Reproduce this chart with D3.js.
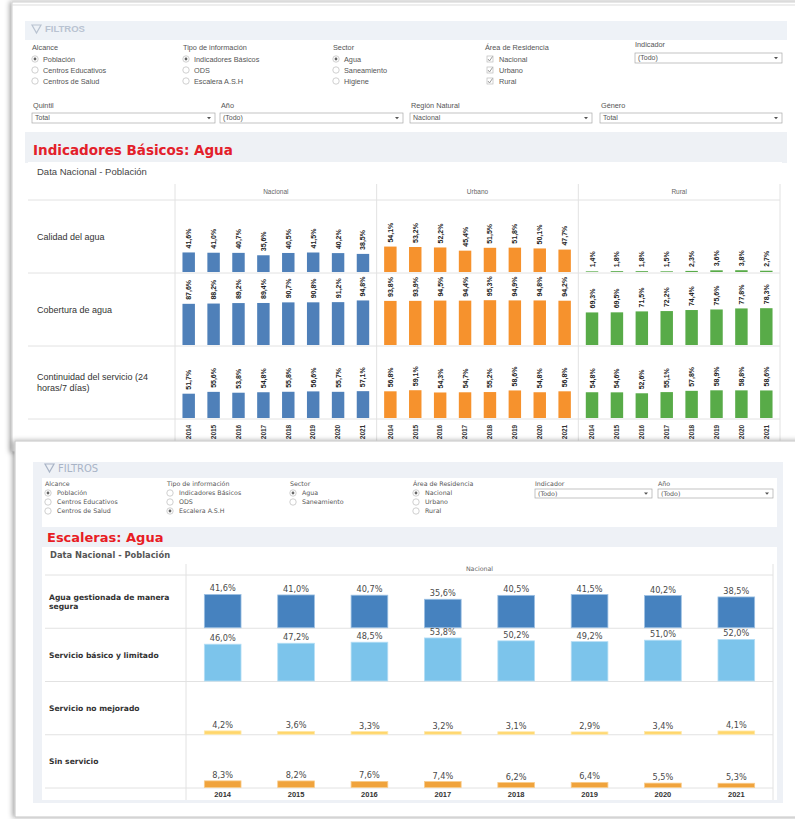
<!DOCTYPE html>
<html>
<head>
<meta charset="utf-8">
<script src="https://cdn.jsdelivr.net/npm/d3@7"></script>
<style>
  body { margin: 0; background: #fff; }
  svg { display: block; }
  text { font-family: "Liberation Sans", Arial, sans-serif; }
  .v { font-family: "DejaVu Sans", Verdana, sans-serif; }
</style>
</head>
<body>
<svg id="chart" width="795" height="819"></svg>
<script>
// Data
const years = ["2014", "2015", "2016", "2017", "2018", "2019", "2020", "2021"];
const areas = ["Nacional", "Urbano", "Rural"];
const basicIndicators = ["Calidad del agua", "Cobertura de agua", "Continuidad del servicio (24 horas/7 días)"];

const calidadNacional = [41.6, 41.0, 40.7, 35.6, 40.5, 41.5, 40.2, 38.5];
const calidadUrbano = [54.1, 53.2, 52.2, 45.4, 51.5, 51.8, 50.1, 47.7];
const calidadRural = [1.4, 1.8, 1.8, 1.5, 2.3, 3.6, 3.8, 2.7];
const coberturaNacional = [87.6, 88.2, 89.2, 89.4, 90.7, 90.8, 91.2, 94.8];
const coberturaUrbano = [93.8, 93.9, 94.5, 94.4, 95.3, 94.9, 94.8, 94.2];
const coberturaRural = [69.3, 69.5, 71.5, 72.2, 74.4, 75.6, 77.8, 78.3];
const continuidadNacional = [51.7, 55.6, 53.8, 54.8, 55.8, 56.6, 55.7, 57.1];
const continuidadUrbano = [56.8, 59.1, 54.3, 54.7, 55.2, 58.6, 54.8, 56.8];
const continuidadRural = [54.8, 54.6, 52.6, 55.1, 57.8, 58.9, 58.8, 58.6];

const ladderLevels = ["Agua gestionada de manera segura", "Servicio básico y limitado", "Servicio no mejorado", "Sin servicio"];
const gestionadaSegura = [41.6, 41.0, 40.7, 35.6, 40.5, 41.5, 40.2, 38.5];
const basicoLimitado = [46.0, 47.2, 48.5, 53.8, 50.2, 49.2, 51.0, 52.0];
const noMejorado = [4.2, 3.6, 3.3, 3.2, 3.1, 2.9, 3.4, 4.1];
const sinServicio = [8.3, 8.2, 7.6, 7.4, 6.2, 6.4, 5.5, 5.3];

const basicSeries = [
  [calidadNacional, calidadUrbano, calidadRural],
  [coberturaNacional, coberturaUrbano, coberturaRural],
  [continuidadNacional, continuidadUrbano, continuidadRural],
];
const ladderSeries = [gestionadaSegura, basicoLimitado, noMejorado, sinServicio];

// Styles
const areaColors = ["#4f80b9", "#f6922d", "#58ab48"];
const ladderColors = ["#4682bf", "#7cc4eb", "#ffd66b", "#f0a33c"];
const ladderStroke = ["#9cc0e3", "#b5def5", "#ffe8a8", "#f8cc8c"];
const gridColor = "#e2e2e2";

const fmt = (v) => d3.format(".1f")(v).replace(".", ",") + "%";
const svg = d3.select("#chart");

const defs = svg.append("defs");
defs.append("filter").attr("id", "shadow")
  .attr("x", "-5%").attr("y", "-5%").attr("width", "110%").attr("height", "110%")
  .append("feDropShadow")
  .attr("dx", -2).attr("dy", 0).attr("stdDeviation", 2.5)
  .attr("flood-color", "#000").attr("flood-opacity", 0.35);

// small form widgets
function radioGroup(g, x, y, title, items, selected, o) {
  g.append("text").attr("class", o.cls).attr("x", x).attr("y", y + o.fs * 0.35)
    .attr("font-size", o.fs).attr("fill", "#555").text(title);
  items.forEach((t, i) => {
    const cy = y + o.first + i * o.step;
    if (o.check) {
      g.append("rect").attr("x", x + o.dx - 3).attr("y", cy - 3).attr("width", 6).attr("height", 6)
        .attr("fill", "#fff").attr("stroke", "#bbb").attr("stroke-width", 0.7);
      g.append("path").attr("d", `M${x + o.dx - 2},${cy} l1.5,2 l3,-4.5`)
        .attr("fill", "none").attr("stroke", "#888").attr("stroke-width", 0.8);
    } else {
      g.append("circle").attr("cx", x + o.dx).attr("cy", cy).attr("r", 3.2)
        .attr("fill", "#fff").attr("stroke", "#bbb").attr("stroke-width", 0.7);
      if (i === selected) {
        g.append("circle").attr("cx", x + o.dx).attr("cy", cy).attr("r", 1.4).attr("fill", "#666");
      }
    }
    g.append("text").attr("class", o.cls).attr("x", x + o.tx).attr("y", cy + o.fs * 0.35)
      .attr("font-size", o.fs).attr("fill", "#555").text(t);
  });
}

function dropdown(g, x, y, w, h, value, fs, cls) {
  g.append("rect").attr("x", x).attr("y", y).attr("width", w).attr("height", h)
    .attr("fill", "#fff").attr("stroke", "#a9a9a9").attr("stroke-width", 0.7);
  g.append("text").attr("class", cls).attr("x", x + 3).attr("y", y + h / 2 + fs * 0.35)
    .attr("font-size", fs).attr("fill", "#555").text(value);
  g.append("path").attr("d", `M${x + w - 8},${y + h / 2 - 1} l2,2.2 l2,-2.2 z`).attr("fill", "#555");
}

function funnel(g, x, y, color) {
  g.append("path").attr("d", `M${x},${y - 4} h9 l-4.5,8 z`)
    .attr("fill", "none").attr("stroke", color).attr("stroke-width", 1.2);
}

// ---------- Top screenshot: Indicadores Básicos ----------
const topG = svg.append("g");
topG.append("rect").attr("x", 12).attr("y", 2).attr("width", 790).attr("height", 450)
  .attr("fill", "#fff").attr("stroke", "#cfcfcf").attr("filter", "url(#shadow)");
topG.append("line").attr("x1", 12).attr("x2", 795).attr("y1", 5).attr("y2", 5).attr("stroke", "#ddd");

topG.append("rect").attr("x", 25).attr("y", 21).attr("width", 762).attr("height", 19).attr("fill", "#eef2f7");
funnel(topG, 32, 29, "#b9c3d1");
topG.append("text").attr("x", 45).attr("y", 32).attr("font-size", 9.5).attr("fill", "#b9c3d1")
  .attr("font-weight", "bold").text("FILTROS");

const topRadio = { fs: 7.3, first: 12, step: 11, dx: 3, tx: 11 };
radioGroup(topG, 32, 47, "Alcance", ["Población", "Centros Educativos", "Centros de Salud"], 0, topRadio);
radioGroup(topG, 183, 47, "Tipo de información", ["Indicadores Básicos", "ODS", "Escalera A.S.H"], 0, topRadio);
radioGroup(topG, 333, 47, "Sector", ["Agua", "Saneamiento", "Higiene"], 0, topRadio);
radioGroup(topG, 485, 47, "Área de Residencia", ["Nacional", "Urbano", "Rural"], -1, { ...topRadio, check: true, dx: 5, tx: 14 });
topG.append("text").attr("x", 635).attr("y", 47).attr("font-size", 7.3).attr("fill", "#555").text("Indicador");
dropdown(topG, 635, 53, 147, 10, "(Todo)", 7);

[["Quintil", 32, 183, "Total"], ["Año", 220, 183, "(Todo)"], ["Región Natural", 410, 182, "Nacional"], ["Género", 600, 182, "Total"]]
  .forEach(([lab, x, w, val]) => {
    topG.append("text").attr("x", x + 1).attr("y", 108).attr("font-size", 7.3).attr("fill", "#555").text(lab);
    dropdown(topG, x, 113, w, 10, val, 7);
  });

topG.append("rect").attr("x", 25).attr("y", 132).attr("width", 762).attr("height", 31).attr("fill", "#eef1f5");
topG.append("text").attr("class", "v").attr("x", 33).attr("y", 155).attr("font-size", 13.5)
  .attr("font-weight", "bold").attr("fill", "#e3202a").text("Indicadores Básicos: Agua");
topG.append("rect").attr("x", 28).attr("y", 162).attr("width", 754).attr("height", 290).attr("fill", "#fff");
topG.append("text").attr("x", 37).attr("y", 175).attr("font-size", 9.5).attr("fill", "#444").text("Data Nacional - Población");

const topRowY = d3.scaleBand().domain(basicIndicators).range([200, 419]);
const topColX = d3.scaleBand().domain(areas).range([175, 780]);
const topYearX = d3.scaleBand().domain(years).range([0, topColX.bandwidth()]).paddingInner(0.5).paddingOuter(0.3);
const topY = d3.scaleLinear().domain([0, 100]).range([0, 47]);

// grid
topG.append("g").selectAll("line").data(topRowY.domain().map((d) => topRowY(d)).concat([topRowY.range()[1]]))
  .join("line").attr("x1", 28).attr("x2", 780).attr("y1", (d) => d).attr("y2", (d) => d)
  .attr("stroke", gridColor);
topG.append("g").selectAll("line").data(areas.map((a) => topColX(a)).concat([topColX.range()[1]]))
  .join("line").attr("x1", (d) => d).attr("x2", (d) => d).attr("y1", 184).attr("y2", 452)
  .attr("stroke", gridColor);

topG.append("g").selectAll("text").data(areas).join("text")
  .attr("x", (d) => topColX(d) + topColX.bandwidth() / 2).attr("y", 194)
  .attr("text-anchor", "middle").attr("font-size", 6.5).attr("fill", "#666").text((d) => d);

// row labels
const rowLabelLines = [["Calidad del agua"], ["Cobertura de agua"], ["Continuidad del servicio (24", "horas/7 días)"]];
basicIndicators.forEach((ind, r) => {
  const cy = topRowY(ind) + topRowY.bandwidth() / 2;
  const lines = rowLabelLines[r];
  lines.forEach((t, k) => {
    topG.append("text").attr("x", 37).attr("y", cy + (k - (lines.length - 1) / 2) * 10.5 + 3)
      .attr("font-size", 9).attr("fill", "#333").text(t);
  });
});

// bars
basicIndicators.forEach((ind, r) => {
  const base = topRowY(ind) + topRowY.bandwidth() - 1;
  areas.forEach((a, c) => {
    const vals = basicSeries[r][c];
    const g = topG.append("g").attr("transform", `translate(${topColX(a)},0)`);
    g.selectAll("rect").data(vals).join("rect")
      .attr("x", (d, i) => topYearX(years[i]))
      .attr("y", (d) => base - topY(d))
      .attr("width", topYearX.bandwidth())
      .attr("height", (d) => topY(d))
      .attr("fill", areaColors[c]);
    g.selectAll("text").data(vals).join("text")
      .attr("transform", (d, i) => `translate(${topYearX(years[i]) + topYearX.bandwidth() / 2 + 2.5},${base - topY(d) - 4}) rotate(-90)`)
      .attr("font-size", 7).attr("font-weight", "bold").attr("fill", "#222")
      .text(fmt);
  });
});

// rotated years
areas.forEach((a) => {
  topG.append("g").attr("transform", `translate(${topColX(a)},0)`)
    .selectAll("text").data(years).join("text")
    .attr("transform", (d) => `translate(${topYearX(d) + topYearX.bandwidth() / 2 + 2.3},432) rotate(-90)`)
    .attr("text-anchor", "middle").attr("font-size", 6.5).attr("font-weight", "bold").attr("fill", "#333")
    .text((d) => d);
});

// ---------- Bottom screenshot: Escaleras ----------
const bot = svg.append("g");
bot.append("rect").attr("x", 15).attr("y", 441).attr("width", 790).attr("height", 376)
  .attr("fill", "#fff").attr("stroke", "#c4c4c4").attr("filter", "url(#shadow)");
bot.append("rect").attr("x", 33).attr("y", 462).attr("width", 750).attr("height", 341).attr("fill", "#eef1f6");
funnel(bot, 45, 468, "#a9b4c6");
bot.append("text").attr("class", "v").attr("x", 58).attr("y", 472).attr("font-size", 10)
  .attr("fill", "#a9b4c6").text("FILTROS");
bot.append("rect").attr("x", 42).attr("y", 478).attr("width", 735).attr("height", 49).attr("fill", "#fff");

const botRadio = { fs: 6.3, first: 9, step: 9, dx: 3, tx: 12, cls: "v" };
radioGroup(bot, 45, 484, "Alcance", ["Población", "Centros Educativos", "Centros de Salud"], 0, botRadio);
radioGroup(bot, 167, 484, "Tipo de información", ["Indicadores Básicos", "ODS", "Escalera A.S.H"], 2, botRadio);
radioGroup(bot, 290, 484, "Sector", ["Agua", "Saneamiento"], 0, botRadio);
radioGroup(bot, 413, 484, "Área de Residencia", ["Nacional", "Urbano", "Rural"], 0, botRadio);
[["Indicador", 535, 117], ["Año", 658, 115]].forEach(([lab, x, w]) => {
  bot.append("text").attr("class", "v").attr("x", x).attr("y", 486).attr("font-size", 6.3).attr("fill", "#555").text(lab);
  dropdown(bot, x, 489, w, 9, "(Todo)", 6.3, "v");
});

bot.append("text").attr("class", "v").attr("x", 47).attr("y", 542).attr("font-size", 13)
  .attr("font-weight", "bold").attr("fill", "#e81c24").text("Escaleras: Agua");
bot.append("rect").attr("x", 42).attr("y", 547).attr("width", 735).attr("height", 253).attr("fill", "#fff");
bot.append("text").attr("class", "v").attr("x", 50).attr("y", 558).attr("font-size", 8.3)
  .attr("font-weight", "bold").attr("fill", "#555").text("Data Nacional - Población");

const botRowY = d3.scaleBand().domain(ladderLevels).range([575, 788]);
const botX = d3.scaleBand().domain(years).range([186, 773]).paddingInner(0.5).paddingOuter(0.25);
const botY = d3.scaleLinear().domain([0, 60]).range([0, 48]);

bot.append("g").selectAll("line").data(ladderLevels.map((d) => botRowY(d)).concat([botRowY.range()[1]]))
  .join("line").attr("x1", 45).attr("x2", 773).attr("y1", (d) => d).attr("y2", (d) => d)
  .attr("stroke", gridColor);
bot.append("g").selectAll("line").data(botX.range())
  .join("line").attr("x1", (d) => d).attr("x2", (d) => d).attr("y1", 564).attr("y2", 800)
  .attr("stroke", gridColor);
bot.append("text").attr("class", "v").attr("x", (botX.range()[0] + botX.range()[1]) / 2).attr("y", 571)
  .attr("text-anchor", "middle").attr("font-size", 6.3).attr("fill", "#666").text("Nacional");

const ladderLabelLines = [["Agua gestionada de manera", "segura"], ["Servicio básico y limitado"], ["Servicio no mejorado"], ["Sin servicio"]];
ladderLevels.forEach((lev, r) => {
  const cy = botRowY(lev) + botRowY.bandwidth() / 2;
  const lines = ladderLabelLines[r];
  lines.forEach((t, k) => {
    bot.append("text").attr("class", "v").attr("x", 49)
      .attr("y", cy + (k - (lines.length - 1) / 2) * 8.5 + 2.8)
      .attr("font-size", 7.6).attr("font-weight", "bold").attr("fill", "#333").text(t);
  });

  const base = botRowY(lev) + botRowY.bandwidth() - 0.5;
  const g = bot.append("g");
  g.selectAll("rect").data(ladderSeries[r]).join("rect")
    .attr("x", (d, i) => botX(years[i]))
    .attr("y", (d) => base - botY(d))
    .attr("width", botX.bandwidth())
    .attr("height", (d) => botY(d))
    .attr("fill", ladderColors[r])
    .attr("stroke", ladderStroke[r]).attr("stroke-width", 0.8);
  g.selectAll("text").data(ladderSeries[r]).join("text")
    .attr("class", "v")
    .attr("x", (d, i) => botX(years[i]) + botX.bandwidth() / 2)
    .attr("y", (d) => base - botY(d) - 3)
    .attr("text-anchor", "middle").attr("font-size", 8.2).attr("fill", "#4a4a4a")
    .text(fmt);
});

// year axis
const yearAxis = bot.append("g").attr("transform", "translate(0,790)")
  .call(d3.axisBottom(botX).tickSize(0).tickPadding(2));
yearAxis.select(".domain").remove();
yearAxis.selectAll("text").attr("font-family", "DejaVu Sans, Verdana, sans-serif")
  .attr("font-size", 7.5).attr("font-weight", "bold").attr("fill", "#333");
</script>
</body>
</html>
